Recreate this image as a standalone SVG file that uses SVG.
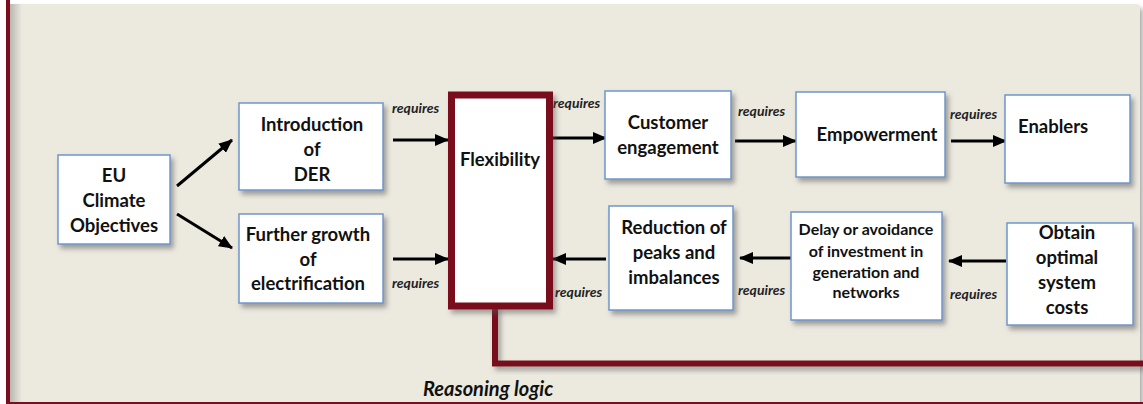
<svg xmlns="http://www.w3.org/2000/svg" width="1143" height="404" viewBox="0 0 1143 404">
<defs>
<filter id="sh" x="-10%" y="-10%" width="130%" height="130%">
<feDropShadow dx="3" dy="4" stdDeviation="2.5" flood-color="#6b6b6b" flood-opacity="0.6"/>
</filter>
<filter id="shr" x="-10%" y="-10%" width="130%" height="130%">
<feDropShadow dx="3" dy="4" stdDeviation="2.5" flood-color="#555" flood-opacity="0.5"/>
</filter>
<linearGradient id="lg" x1="0" y1="0" x2="1" y2="0">
<stop offset="0" stop-color="#b9b7b0"/>
<stop offset="1" stop-color="#ecE9df"/>
</linearGradient>
<marker id="ah" viewBox="0 0 14 12" refX="13" refY="6" markerWidth="14" markerHeight="12" markerUnits="userSpaceOnUse" orient="auto">
<path d="M0,0 L14,6 L0,12 Z" fill="#000"/>
</marker>
</defs>
<style>
.box{fill:#fff;stroke:#6f97cc;stroke-width:1.5;filter:url(#sh)}
.t{font-family:Lato,"Open Sans","Liberation Sans",sans-serif;font-weight:bold;font-size:18.5px;fill:#111;text-anchor:middle}
.ts{font-size:16px}
.req{font-family:Lato,"Open Sans","Liberation Sans",sans-serif;font-weight:bold;font-style:italic;font-size:14px;fill:#222}
.ar{stroke:#000;stroke-width:3;fill:none;marker-end:url(#ah)}
.red{stroke:#7a0e1f;fill:none}
</style>
<rect x="0" y="0" width="1143" height="404" fill="#fff"/>
<rect x="10" y="4" width="1130" height="400" rx="4" fill="#ece9df" filter="url(#shr)"/>
<rect x="10" y="4" width="12" height="400" fill="url(#lg)"/>
<rect x="6" y="0" width="4" height="404" fill="#7a0e1f"/>
<rect x="6" y="402" width="1137" height="2" fill="#7a0e1f"/>

<g id="connectors">
<line class="ar" x1="177" y1="186" x2="232" y2="140"/>
<line class="ar" x1="177" y1="214" x2="232" y2="248"/>
<line class="ar" x1="393" y1="140" x2="448" y2="140"/>
<line class="ar" x1="393" y1="259" x2="448" y2="259"/>
<line class="ar" x1="553" y1="138" x2="606" y2="138"/>
<line class="ar" x1="606" y1="259" x2="553" y2="259"/>
<line class="ar" x1="735" y1="141" x2="796" y2="141"/>
<line class="ar" x1="951" y1="141" x2="1006" y2="141"/>
<line class="ar" x1="791" y1="258" x2="740" y2="258"/>
<line class="ar" x1="1006" y1="261" x2="949" y2="261"/>
<text class="req" x="392" y="113">requires</text>
<text class="req" x="392" y="288">requires</text>
<text class="req" x="553" y="108">requires</text>
<text class="req" x="555" y="297">requires</text>
<text class="req" x="738" y="116">requires</text>
<text class="req" x="950" y="119">requires</text>
<text class="req" x="738" y="295">requires</text>
<text class="req" x="950" y="299">requires</text>
<path class="red" d="M495,306 V363.5 H1143" stroke-width="6" filter="url(#shr)"/>
</g>

<g id="eu">
<rect class="box" x="58" y="155" width="112" height="89"/>
<text class="t" x="114" y="182">EU</text>
<text class="t" x="114" y="207">Climate</text>
<text class="t" x="114" y="232">Objectives</text>
</g>
<g id="der">
<rect class="box" x="239" y="103" width="144" height="87"/>
<text class="t" x="312" y="131">Introduction</text>
<text class="t" x="312" y="156">of</text>
<text class="t" x="312" y="181">DER</text>
</g>
<g id="electrification">
<rect class="box" x="239" y="214" width="144" height="89"/>
<text class="t" x="308" y="241">Further growth</text>
<text class="t" x="308" y="266">of</text>
<text class="t" x="308" y="290">electrification</text>
</g>
<g id="flexibility">
<rect x="451.5" y="95" width="98" height="211" fill="#fff" stroke="#7a0e1f" stroke-width="7" filter="url(#shr)"/>
<text class="t" x="500" y="166">Flexibility</text>
</g>
<g id="customer">
<rect class="box" x="605" y="91" width="126" height="88"/>
<text class="t" x="668" y="129">Customer</text>
<text class="t" x="668" y="154">engagement</text>
</g>
<g id="empowerment">
<rect class="box" x="796" y="92" width="149" height="85"/>
<text class="t" x="877" y="141">Empowerment</text>
</g>
<g id="enablers">
<rect class="box" x="1005" y="95" width="125" height="88"/>
<text class="t" x="1018" y="133" style="text-anchor:start">Enablers</text>
</g>
<g id="reduction">
<rect class="box" x="609" y="206" width="124" height="104"/>
<text class="t" x="674" y="234">Reduction of</text>
<text class="t" x="674" y="259">peaks and</text>
<text class="t" x="674" y="284">imbalances</text>
</g>
<g id="delay">
<rect class="box" x="791" y="212" width="151" height="108"/>
<text class="t ts" x="866" y="235">Delay or avoidance</text>
<text class="t ts" x="866" y="257">of investment in</text>
<text class="t ts" x="866" y="278">generation and</text>
<text class="t ts" x="866" y="298">networks</text>
</g>
<g id="costs">
<rect class="box" x="1007" y="223" width="126" height="102"/>
<text class="t" x="1067" y="239">Obtain</text>
<text class="t" x="1067" y="264">optimal</text>
<text class="t" x="1067" y="289">system</text>
<text class="t" x="1067" y="314">costs</text>
</g>
<text x="423" y="396" style="font-family:Lato,'Open Sans','Liberation Sans',sans-serif;font-weight:bold;font-style:italic;font-size:20px;fill:#111">Reasoning logic</text>
</svg>
